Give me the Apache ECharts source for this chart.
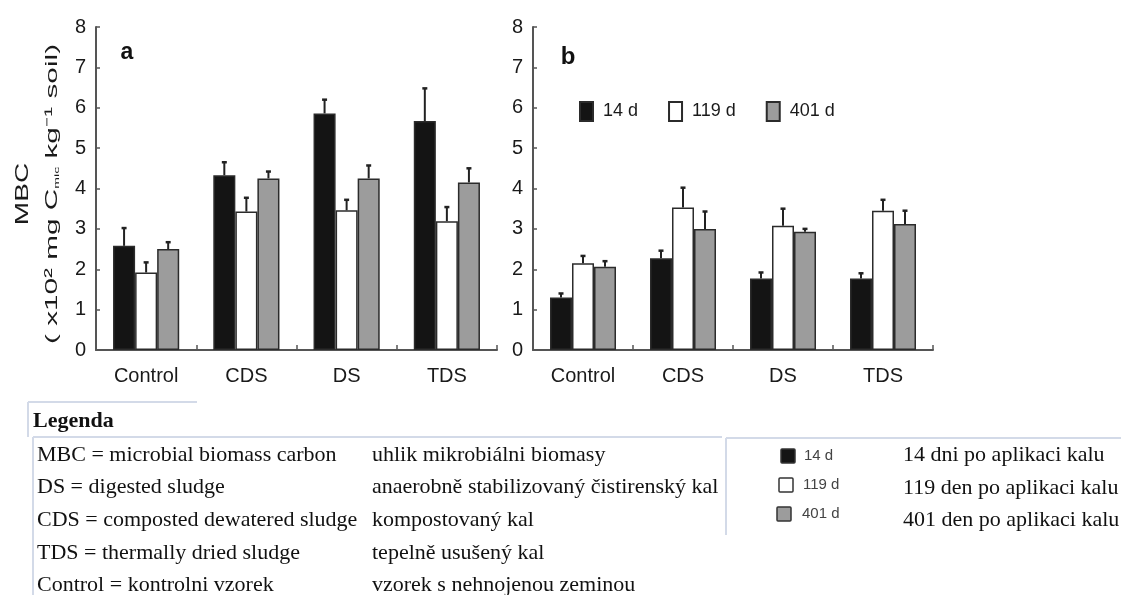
<!DOCTYPE html>
<html><head><meta charset="utf-8">
<script src="https://cdn.jsdelivr.net/npm/echarts@6/dist/echarts.min.js"></script>
<style>html,body{margin:0;padding:0;background:#fff}#c{width:1121px;height:595px}</style>
</head><body><div id="c"></div>
<script>
// ---------- data ----------
const categories = ['Control', 'CDS', 'DS', 'TDS'];
const seriesNames = ['14 d', '119 d', '401 d'];
const yTicks = [0, 1, 2, 3, 4, 5, 6, 7, 8];
// panel a
const a14 = [2.58, 4.33, 5.86, 5.67];
const a14Err = [0.44, 0.32, 0.34, 0.81];
const a119 = [1.92, 3.43, 3.46, 3.19];
const a119Err = [0.25, 0.34, 0.26, 0.35];
const a401 = [2.50, 4.25, 4.25, 4.15];
const a401Err = [0.17, 0.17, 0.32, 0.35];
// panel b
const b14 = [1.30, 2.27, 1.77, 1.77];
const b14Err = [0.10, 0.19, 0.15, 0.13];
const b119 = [2.15, 3.53, 3.08, 3.45];
const b119Err = [0.18, 0.49, 0.42, 0.27];
const b401 = [2.06, 3.00, 2.93, 3.12];
const b401Err = [0.14, 0.43, 0.07, 0.33];
// legend table
const legendTitle = 'Legenda';
const termsEn = ['MBC = microbial biomass carbon', 'DS = digested sludge', 'CDS = composted dewatered sludge', 'TDS = thermally dried sludge', 'Control = kontrolni vzorek'];
const termsCz = ['uhlik mikrobiálni biomasy', 'anaerobně stabilizovaný čistirenský kal', 'kompostovaný kal', 'tepelně usušený kal', 'vzorek s nehnojenou zeminou'];
const periodCz = ['14 dni po aplikaci kalu', '119 den po aplikaci kalu', '401 den po aplikaci kalu'];

// ---------- style ----------
const FONT = '"Liberation Sans", Arial, sans-serif';
const SERIF = '"Liberation Serif", "Times New Roman", serif';
const fills = ['#141414', '#ffffff', '#9c9c9c'];
const BORDER = '#2b2b2b';
const AXIS = '#555';
const TXT = '#1a1a1a';
const BAR_FRAC = 0.22;
const TABLE_LINE = '#d3dae8';

const panels = [
  { vals: [a14, a119, a401], errs: [a14Err, a119Err, a401Err] },
  { vals: [b14, b119, b401], errs: [b14Err, b119Err, b401Err] }
];

const grids = [
  { left: 96, top: 27, width: 401, height: 323 },
  { left: 533, top: 27, width: 400, height: 323 }
];

function yAxisCfg(gi) {
  return {
    type: 'value', gridIndex: gi, min: yTicks[0], max: yTicks[yTicks.length - 1], interval: 1,
    axisLine: { show: true, lineStyle: { color: AXIS, width: 2 } },
    axisTick: { show: true, inside: true, length: 4, lineStyle: { color: AXIS, width: 1.5 } },
    splitLine: { show: false },
    axisLabel: { fontSize: 20, color: TXT, margin: 10, fontFamily: FONT }
  };
}
function xAxisCfg(gi) {
  return {
    type: 'category', gridIndex: gi, data: categories,
    axisLine: { show: true, lineStyle: { color: AXIS, width: 2 } },
    axisTick: { show: true, inside: true, length: 5, lineStyle: { color: AXIS, width: 1.5 } },
    axisLabel: { fontSize: 20, color: TXT, margin: 16, fontFamily: FONT }
  };
}

function renderErr(params, api) {
  const cat = api.value(0), k = api.value(1), v = api.value(2), top = api.value(3);
  const p0 = api.coord([cat, v]);
  const p1 = api.coord([cat, top]);
  const bw = api.size([1, 0])[0] * BAR_FRAC;
  const x = p0[0] + (k - 1) * bw;
  return {
    type: 'group', children: [
      { type: 'line', shape: { x1: x, y1: p0[1], x2: x, y2: p1[1] }, style: { stroke: '#222', lineWidth: 2 } },
      { type: 'line', shape: { x1: x - 2.5, y1: p1[1], x2: x + 2.5, y2: p1[1] }, style: { stroke: '#222', lineWidth: 2.5 } }
    ]
  };
}

const series = [];
panels.forEach((p, gi) => {
  p.vals.forEach((vals, k) => {
    series.push({
      type: 'bar', name: seriesNames[k], xAxisIndex: gi, yAxisIndex: gi, data: vals,
      barWidth: (BAR_FRAC * 100) + '%', barGap: '0%',
      itemStyle: { color: fills[k], borderColor: BORDER, borderWidth: 1.5 },
      silent: true
    });
  });
  const errData = [];
  p.vals.forEach((vals, k) => {
    vals.forEach((v, c) => errData.push([c, k, v, v + p.errs[k][c]]));
  });
  series.push({
    type: 'custom', xAxisIndex: gi, yAxisIndex: gi, renderItem: renderErr,
    data: errData, encode: { x: 0, y: 3 }, z: 5, silent: true
  });
});

// ---------- graphics: labels + legend table ----------
const graphic = [];
graphic.push({ type: 'text', x: 127, y: 53, style: { text: 'a', fontSize: 23, fontWeight: 'bold', fontFamily: FONT, fill: '#111', align: 'center', verticalAlign: 'middle' } });
graphic.push({ type: 'text', x: 568, y: 57, style: { text: 'b', fontSize: 24, fontWeight: 'bold', fontFamily: FONT, fill: '#111', align: 'center', verticalAlign: 'middle' } });
graphic.push({ type: 'text', x: 23, y: 194, rotation: Math.PI / 2, scaleX: 1.56,
  style: { text: 'MBC', fontSize: 18, fontFamily: FONT, fill: TXT, align: 'center', verticalAlign: 'middle' } });
graphic.push({ type: 'text', x: 52, y: 194, rotation: Math.PI / 2, scaleX: 1.75,
  style: { text: '( x10² mg C{sub|mic} kg⁻¹ soil)', fontSize: 17, fontFamily: FONT, fill: TXT, align: 'center', verticalAlign: 'middle',
    rich: { sub: { fontSize: 8, fontFamily: FONT, fill: TXT, verticalAlign: 'bottom', padding: [8, 0, 0, 0] } } } });

// table lines
const lines = [
  [28, 402, 197, 402], [28, 402, 28, 437],
  [33, 437, 722, 437], [33, 437, 33, 595],
  [726, 438, 1121, 438], [726, 438, 726, 535]
];
lines.forEach(l => graphic.push({ type: 'line', shape: { x1: l[0], y1: l[1], x2: l[2], y2: l[3] }, style: { stroke: TABLE_LINE, lineWidth: 2 } }));
graphic.push({ type: 'text', x: 33, y: 421, style: { text: legendTitle, fontSize: 22, fontWeight: 'bold', fontFamily: SERIF, fill: '#111', align: 'left', verticalAlign: 'middle' } });
termsEn.forEach((t, i) => {
  graphic.push({ type: 'text', x: 37, y: 455 + i * 32.6, style: { text: t, fontSize: 22, fontFamily: SERIF, fill: '#111', align: 'left', verticalAlign: 'middle' } });
  graphic.push({ type: 'text', x: 372, y: 455 + i * 32.6, style: { text: termsCz[i], fontSize: 22, fontFamily: SERIF, fill: '#111', align: 'left', verticalAlign: 'middle' } });
});
const swX = [781, 779, 777], swY = [456, 485, 514], lblX = [804, 803, 802], czY = [455, 488, 520];
seriesNames.forEach((n, i) => {
  graphic.push({ type: 'rect', shape: { x: swX[i], y: swY[i] - 7, width: 14, height: 14, r: 1 }, style: { fill: fills[i], stroke: '#333', lineWidth: 1.5 } });
  graphic.push({ type: 'text', x: lblX[i], y: swY[i], style: { text: n, fontSize: 15, fontFamily: FONT, fill: '#444', align: 'left', verticalAlign: 'middle' } });
  graphic.push({ type: 'text', x: 903, y: czY[i], style: { text: periodCz[i], fontSize: 22, fontFamily: SERIF, fill: '#111', align: 'left', verticalAlign: 'middle' } });
});

const chart = echarts.init(document.getElementById('c'), null, { renderer: 'canvas' });
chart.setOption({
  animation: false,
  backgroundColor: '#fff',
  grid: grids,
  xAxis: [xAxisCfg(0), xAxisCfg(1)],
  yAxis: [yAxisCfg(0), yAxisCfg(1)],
  legend: {
    data: seriesNames, left: 574, top: 96, itemWidth: 13, itemHeight: 19, itemGap: 30, icon: 'rect',
    selectedMode: false,
    textStyle: { fontSize: 18, color: TXT, fontFamily: FONT, padding: [0, 0, 0, 5] }
  },
  series: series,
  graphic: graphic
});
</script></body></html>
